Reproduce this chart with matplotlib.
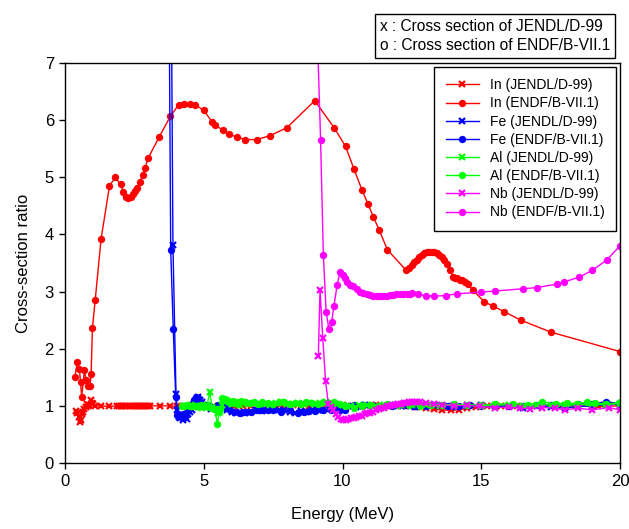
import matplotlib
matplotlib.use("Agg")
import matplotlib.pyplot as plt

plt.rcParams["font.family"] = ["Liberation Sans", "DejaVu Sans"]

# In (JENDL/D-99)
in_j_e = [0.40, 0.45, 0.50, 0.54, 0.57, 0.61, 0.66, 0.70, 0.74, 0.78,
          0.83, 0.88, 0.92, 0.96, 1.02, 1.08, 1.30, 1.59, 1.86, 1.95,
          2.03, 2.10, 2.18, 2.25, 2.33, 2.40, 2.48, 2.55, 2.63, 2.70,
          2.78, 2.85, 2.93, 3.00, 3.06, 3.42, 3.78, 4.02, 4.30, 4.60,
          4.90, 5.20, 5.50, 5.80, 6.10, 6.40, 6.70, 7.00, 7.30, 7.60,
          7.90, 8.20, 8.50, 8.80, 9.10, 9.40, 9.70, 10.0, 10.3, 10.6,
          10.9, 11.2, 11.5, 11.8, 12.1, 12.4, 12.7, 13.0, 13.3, 13.6,
          13.9, 14.2, 14.5, 14.8, 15.2, 15.7, 16.3, 17.0, 17.7, 18.4,
          19.2, 20.0]
in_j_y = [0.91, 0.87, 0.80, 0.72, 0.76, 0.85, 0.90, 0.94, 0.98, 1.04,
          1.00, 1.02, 1.10, 1.05, 1.03, 1.00, 1.00, 0.99, 1.00, 1.00,
          1.00, 1.00, 1.00, 1.00, 1.00, 1.00, 1.00, 1.00, 1.00, 1.00,
          1.00, 1.00, 1.00, 1.00, 1.00, 1.00, 1.00, 0.99, 1.00, 1.01,
          1.00, 0.99, 1.00, 1.01, 1.00, 0.99, 1.00, 1.01, 1.00, 0.99,
          1.00, 1.01, 1.00, 0.99, 1.00, 1.01, 1.00, 1.02, 1.00, 0.99,
          1.00, 1.01, 0.99, 1.00, 0.99, 0.99, 0.98, 0.96, 0.94, 0.93,
          0.92, 0.93, 0.96, 0.98, 1.00, 0.99, 1.00, 1.00, 0.99, 1.00,
          0.99, 1.00]

# In (ENDF/B-VII.1)
in_e_e = [0.36, 0.44, 0.52, 0.56, 0.60, 0.70, 0.76, 0.84, 0.90, 0.94,
          0.99, 1.09, 1.30, 1.60, 1.80, 2.00, 2.10, 2.20, 2.28, 2.37,
          2.44, 2.52, 2.59, 2.70, 2.80, 2.89, 3.00, 3.40, 3.80, 4.10,
          4.30, 4.50, 4.70, 5.00, 5.30, 5.41, 5.69, 5.90, 6.20, 6.50,
          6.91, 7.40, 8.00, 9.00, 9.71, 10.11, 10.41, 10.70, 10.91, 11.11,
          11.32, 11.62, 12.30, 12.40, 12.49, 12.58, 12.67, 12.76, 12.85, 12.94,
          13.03, 13.12, 13.21, 13.30, 13.39, 13.48, 13.57, 13.66, 13.75, 13.87,
          13.99, 14.07, 14.14, 14.22, 14.29, 14.40, 14.51, 14.71, 15.11, 15.41,
          15.82, 16.42, 17.51, 20.0]
in_e_y = [1.51, 1.77, 1.64, 1.41, 1.16, 1.62, 1.45, 1.35, 1.34, 1.55,
          2.37, 2.86, 3.92, 4.84, 5.00, 4.88, 4.75, 4.66, 4.63, 4.66,
          4.71, 4.76, 4.81, 4.92, 5.04, 5.17, 5.34, 5.71, 6.07, 6.27,
          6.29, 6.29, 6.27, 6.17, 5.97, 5.92, 5.82, 5.76, 5.70, 5.66,
          5.66, 5.73, 5.87, 6.34, 5.86, 5.54, 5.15, 4.78, 4.54, 4.31,
          4.08, 3.73, 3.37, 3.42, 3.47, 3.51, 3.55, 3.60, 3.64, 3.67,
          3.69, 3.70, 3.70, 3.69, 3.67, 3.64, 3.60, 3.55, 3.49, 3.37,
          3.26, 3.24, 3.23, 3.21, 3.20, 3.17, 3.13, 3.02, 2.82, 2.75,
          2.65, 2.50, 2.29, 1.95]

# Fe (JENDL/D-99)
fe_j_e = [3.78, 3.89, 4.00, 4.05, 4.10, 4.15, 4.20, 4.26, 4.32, 4.38,
          4.44, 4.50, 4.56, 4.62, 4.68, 4.74, 4.80, 4.86, 4.92, 4.98,
          5.10, 5.25, 5.40, 5.55, 5.70, 5.85, 6.00, 6.15, 6.30, 6.50,
          6.70, 6.90, 7.10, 7.30, 7.50, 7.70, 7.90, 8.10, 8.30, 8.50,
          8.70, 8.90, 9.10, 9.30, 9.50, 9.70, 9.90, 10.2, 10.5, 10.8,
          11.1, 11.4, 11.7, 12.0, 12.3, 12.6, 12.9, 13.2, 13.5, 13.8,
          14.1, 14.5, 15.0, 15.5, 16.0, 16.5, 17.0, 17.5, 18.0, 18.5,
          19.0, 19.5, 20.0]
fe_j_y = [12.0, 3.82, 1.20, 0.92, 0.80, 0.78, 0.82, 0.75, 0.80, 0.77,
          0.85, 0.90, 0.92, 1.00, 1.08, 1.12, 1.15, 1.10, 1.06, 1.02,
          0.98, 0.95, 0.96, 1.00, 0.97, 0.92, 0.90, 0.88, 0.89, 0.88,
          0.90, 0.92, 0.91, 0.93, 0.94, 0.92, 0.93, 0.90, 0.88, 0.91,
          0.90, 0.92, 0.93, 0.92, 0.94, 0.96, 0.98, 1.00, 0.98, 1.02,
          1.00, 0.98, 1.01, 0.99, 1.00, 0.98, 1.00, 1.01, 0.99, 1.00,
          0.98, 1.00, 1.01, 0.99, 1.00, 0.97, 1.00, 0.98, 0.96, 0.99,
          1.00, 1.02, 1.03]

# Fe (ENDF/B-VII.1)
fe_e_e = [3.70, 3.81, 3.90, 3.99, 4.03, 4.08, 4.13, 4.18, 4.24, 4.30,
          4.36, 4.42, 4.48, 4.54, 4.60, 4.66, 4.72, 4.78, 4.84, 4.90,
          4.96, 5.05, 5.20, 5.35, 5.50, 5.65, 5.80, 5.95, 6.10, 6.30,
          6.50, 6.70, 6.90, 7.10, 7.30, 7.50, 7.80, 8.10, 8.40, 8.60,
          8.80, 9.00, 9.30, 9.60, 9.90, 10.1, 10.4, 10.7, 11.0, 11.4,
          11.8, 12.2, 12.6, 13.0, 13.4, 13.8, 14.2, 14.6, 15.0, 15.5,
          16.0, 16.5, 17.0, 17.5, 18.0, 18.5, 19.0, 19.5, 20.0]
fe_e_y = [12.0, 3.72, 2.35, 1.16, 0.84, 0.86, 0.82, 0.80, 0.85, 0.83,
          0.88, 0.92, 0.95, 1.00, 1.05, 1.10, 1.16, 1.13, 1.08, 1.04,
          1.00, 1.02, 1.00, 0.98, 1.01, 0.99, 0.96, 0.93, 0.90, 0.88,
          0.89, 0.90, 0.93, 0.92, 0.93, 0.92, 0.90, 0.92, 0.88, 0.90,
          0.91, 0.91, 0.93, 0.93, 0.93, 0.92, 1.02, 1.00, 1.01, 0.99,
          1.00, 1.02, 1.00, 0.99, 1.01, 1.00, 0.99, 1.02, 1.00, 1.01,
          1.00, 0.99, 1.01, 1.02, 1.00, 1.03, 1.04, 1.07, 1.04]

# Al (JENDL/D-99)
al_j_e = [4.25, 4.35, 4.45, 4.55, 4.65, 4.75, 4.85, 4.95, 5.05, 5.12,
          5.22, 5.30, 5.40, 5.46, 5.52, 5.59, 5.65, 5.70, 5.80, 5.90,
          6.00, 6.15, 6.30, 6.45, 6.60, 6.80, 7.00, 7.20, 7.40, 7.60,
          7.80, 8.00, 8.20, 8.40, 8.60, 8.80, 9.00, 9.20, 9.40, 9.60,
          9.80, 10.0, 10.3, 10.6, 10.9, 11.2, 11.5, 11.8, 12.1, 12.5,
          13.0, 13.5, 14.0, 14.5, 15.0, 15.5, 16.0, 16.5, 17.0, 17.5,
          18.0, 18.5, 19.0, 19.5, 20.0]
al_j_y = [1.00, 0.99, 1.00, 1.01, 0.98, 0.99, 1.00, 0.97, 0.98, 1.02,
          1.24, 0.98, 0.95, 0.92, 0.87, 0.90, 1.02, 1.10, 1.08, 1.06,
          1.04, 1.05, 1.02, 1.06, 1.04, 1.05, 1.03, 1.04, 1.02, 1.05,
          1.06, 1.04, 1.03, 1.05, 1.04, 1.05, 1.04, 1.05, 1.06, 1.05,
          1.04, 1.02, 1.00, 1.01, 1.02, 1.00, 1.01, 1.02, 1.01, 1.02,
          1.01, 1.00, 1.02, 1.01, 1.00, 1.01, 1.02, 1.00, 1.01, 1.02,
          1.01, 1.02, 1.03, 1.02, 1.04]

# Al (ENDF/B-VII.1)
al_e_e = [4.20, 4.30, 4.40, 4.50, 4.60, 4.70, 4.80, 4.90, 5.00, 5.10,
          5.20, 5.30, 5.40, 5.49, 5.57, 5.65, 5.75, 5.85, 5.95, 6.05,
          6.15, 6.25, 6.35, 6.50, 6.65, 6.80, 6.95, 7.10, 7.30, 7.50,
          7.70, 7.90, 8.10, 8.30, 8.50, 8.70, 8.90, 9.10, 9.30, 9.50,
          9.70, 9.90, 10.1, 10.4, 10.7, 11.0, 11.3, 11.6, 12.0, 12.4,
          12.8, 13.2, 13.6, 14.0, 14.5, 15.0, 15.5, 16.15, 16.7, 17.2,
          17.7, 18.1, 18.44, 18.8, 19.1, 19.5, 20.0]
al_e_y = [1.00, 0.99, 1.01, 1.00, 1.00, 0.99, 1.00, 1.01, 0.99, 1.00,
          0.98, 0.97, 0.95, 0.68, 0.95, 1.13, 1.12, 1.10, 1.05, 1.08,
          1.06, 1.03, 1.08, 1.06, 1.05, 1.07, 1.04, 1.06, 1.05, 1.03,
          1.06, 1.07, 1.04, 1.05, 1.03, 1.06, 1.05, 1.04, 1.06, 1.05,
          1.06, 1.03, 0.99, 0.97, 1.00, 1.02, 1.00, 1.03, 1.01, 1.02,
          1.00, 1.02, 1.01, 1.03, 1.02, 1.01, 1.03, 1.04, 1.02, 1.07,
          1.03, 1.05, 1.04, 1.06, 1.05, 1.03, 1.06]

# Nb (JENDL/D-99)
nb_j_e = [9.13, 9.19, 9.29, 9.39, 9.49, 9.58, 9.67, 9.76, 9.85, 9.94,
          10.03, 10.12, 10.21, 10.30, 10.40, 10.50, 10.60, 10.70, 10.80, 10.90,
          11.00, 11.10, 11.20, 11.30, 11.40, 11.50, 11.60, 11.70, 11.80, 11.90,
          12.00, 12.10, 12.20, 12.30, 12.40, 12.50, 12.60, 12.70, 12.80, 13.0,
          13.3, 13.6, 14.0, 14.5, 14.95, 15.5, 16.0, 16.4, 16.76, 17.2,
          17.66, 18.0, 18.5, 18.98, 19.6, 20.0]
nb_j_y = [1.88, 3.03, 2.18, 1.43, 1.04, 0.98, 0.93, 0.85, 0.80, 0.77,
          0.75, 0.76, 0.77, 0.78, 0.79, 0.80, 0.82, 0.83, 0.85, 0.87,
          0.88, 0.90, 0.92, 0.94, 0.96, 0.97, 0.99, 1.00, 1.01, 1.02,
          1.03, 1.04, 1.05, 1.05, 1.06, 1.07, 1.07, 1.06, 1.06, 1.05,
          1.03, 1.02, 1.00, 1.01, 0.99, 0.97, 0.98, 0.96, 0.95, 0.97,
          0.96, 0.93, 0.96, 0.93, 0.97, 0.93]

# Nb (ENDF/B-VII.1)
nb_e_e = [9.00, 9.21, 9.31, 9.41, 9.51, 9.61, 9.69, 9.81, 9.91, 10.00,
          10.09, 10.18, 10.28, 10.39, 10.51, 10.63, 10.75, 10.87, 10.99, 11.11,
          11.23, 11.35, 11.47, 11.59, 11.71, 11.83, 11.93, 12.07, 12.19, 12.31,
          12.43, 12.52, 12.73, 13.01, 13.30, 13.72, 14.11, 14.99, 15.51, 16.52,
          17.00, 17.72, 17.99, 18.52, 18.99, 19.52, 20.0]
nb_e_y = [9.00, 5.66, 3.64, 2.65, 2.34, 2.47, 2.75, 3.12, 3.34, 3.29,
          3.23, 3.17, 3.12, 3.09, 3.05, 3.00, 2.98, 2.96, 2.94, 2.93,
          2.92, 2.92, 2.92, 2.93, 2.94, 2.94, 2.96, 2.95, 2.95, 2.95,
          2.96, 2.97, 2.95, 2.93, 2.92, 2.93, 2.96, 2.99, 3.01, 3.05,
          3.07, 3.13, 3.17, 3.25, 3.37, 3.55, 3.80]

series = [
    (in_j_e, in_j_y, "#ff0000", "x", "In (JENDL/D-99)"),
    (in_e_e, in_e_y, "#ff0000", "o", "In (ENDF/B-VII.1)"),
    (fe_j_e, fe_j_y, "#0000ff", "x", "Fe (JENDL/D-99)"),
    (fe_e_e, fe_e_y, "#0000ff", "o", "Fe (ENDF/B-VII.1)"),
    (al_j_e, al_j_y, "#00ff00", "x", "Al (JENDL/D-99)"),
    (al_e_e, al_e_y, "#00ff00", "o", "Al (ENDF/B-VII.1)"),
    (nb_j_e, nb_j_y, "#ff00ff", "x", "Nb (JENDL/D-99)"),
    (nb_e_e, nb_e_y, "#ff00ff", "o", "Nb (ENDF/B-VII.1)"),
]

fig = plt.figure(figsize=(6.29, 5.29), dpi=100)
ax = fig.add_axes([65 / 629, 1 - 463 / 529, 555 / 629, 400 / 529])

for e, y, c, m, lab in series:
    if m == "x":
        ax.plot(e, y, color=c, lw=1, marker="x", markersize=4.5, mew=1.6, label=lab)
    else:
        ax.plot(e, y, color=c, lw=1, marker="o", markersize=5.3, mew=0, label=lab)

ax.set_xlim(0, 20)
ax.set_ylim(0, 7)
ax.set_xticks([0, 5, 10, 15, 20])
ax.set_yticks(range(8))
ax.tick_params(direction="out", length=4, width=1, labelsize=12, pad=4)
ax.set_xlabel("Energy (MeV)", fontsize=12, labelpad=13)
ax.set_ylabel("Cross-section ratio", fontsize=12, labelpad=10)
for s in ax.spines.values():
    s.set_linewidth(1)

leg = ax.legend(loc="upper right", fontsize=10, fancybox=False, edgecolor="black",
                framealpha=1, borderaxespad=0.3, handlelength=2.4,
                labelspacing=0.3, borderpad=0.8)
leg.get_frame().set_linewidth(1)

fig.text(380 / 629, 1 - 36 / 529,
         "x : Cross section of JENDL/D-99\no : Cross section of ENDF/B-VII.1",
         fontsize=11.2, ha="left", va="center", linespacing=1.4,
         bbox=dict(boxstyle="square,pad=0.3", fc="white", ec="black", lw=1))

fig.savefig("out.png", dpi=100)
